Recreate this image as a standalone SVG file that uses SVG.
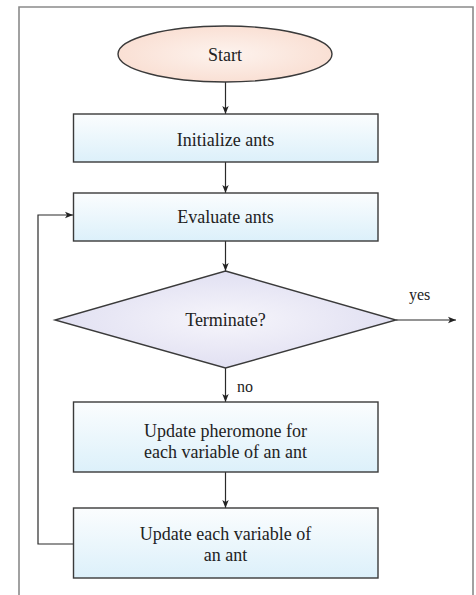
<svg xmlns="http://www.w3.org/2000/svg" width="476" height="595" viewBox="0 0 476 595">
<defs>
<radialGradient id="gStart" cx="0.5" cy="0.5" r="0.6">
<stop offset="0" stop-color="#fdf3ee"/>
<stop offset="1" stop-color="#f9dccf"/>
</radialGradient>
<linearGradient id="gBox" x1="0" y1="0" x2="0" y2="1">
<stop offset="0" stop-color="#fbfdfe"/>
<stop offset="1" stop-color="#dcf0fa"/>
</linearGradient>
<radialGradient id="gDia" cx="0.5" cy="0.5" r="0.5">
<stop offset="0" stop-color="#f6f5fb"/>
<stop offset="1" stop-color="#e1e0f2"/>
</radialGradient>
<marker id="arr" viewBox="0 0 10 10" refX="10" refY="5" markerWidth="8" markerHeight="8" markerUnits="userSpaceOnUse" orient="auto">
<path d="M0,1 L10,5 L0,9 L2.5,5 Z" fill="#222"/>
</marker>
<style>
.node{stroke:#3a3a3a;stroke-width:1.4}
.t{font-family:"Liberation Serif","Times New Roman",serif;font-size:18px;fill:#222;text-anchor:middle}
.lbl{font-family:"Liberation Serif","Times New Roman",serif;font-size:16px;fill:#222}
.c{fill:none;stroke:#2a2a2a;stroke-width:1.2}
</style>
</defs>
<rect x="0" y="0" width="476" height="595" fill="#ffffff"/>
<path d="M19,600 L19,7 L473,7 L473,600" fill="none" stroke="#8a8a8a" stroke-width="1.6"/>
<g id="connectors">
<line class="c" x1="225.5" y1="82" x2="225.5" y2="114" marker-end="url(#arr)"/>
<line class="c" x1="225.5" y1="162" x2="225.5" y2="193" marker-end="url(#arr)"/>
<line class="c" x1="225.5" y1="241" x2="225.5" y2="271" marker-end="url(#arr)"/>
<line class="c" x1="396" y1="320" x2="456" y2="320" marker-end="url(#arr)"/>
<line class="c" x1="225.5" y1="368" x2="225.5" y2="402" marker-end="url(#arr)"/>
<line class="c" x1="225.5" y1="472" x2="225.5" y2="508" marker-end="url(#arr)"/>
<polyline class="c" points="73,544 38,544 38,215 73,215" marker-end="url(#arr)"/>
<text class="lbl" x="409" y="300">yes</text>
<text class="lbl" x="237" y="392">no</text>
</g>
<g id="start">
<ellipse class="node" cx="225" cy="54" rx="107" ry="28" fill="url(#gStart)"/>
<text class="t" x="225" y="61">Start</text>
</g>
<g id="init">
<rect class="node" x="73.5" y="114" width="304.5" height="48" fill="url(#gBox)"/>
<text class="t" x="225.5" y="145.5">Initialize ants</text>
</g>
<g id="evaluate">
<rect class="node" x="73.5" y="193" width="304.5" height="48" fill="url(#gBox)"/>
<text class="t" x="225.5" y="223">Evaluate ants</text>
</g>
<g id="terminate">
<polygon class="node" points="225.5,271 396,320 225.5,368 55,320" fill="url(#gDia)"/>
<text class="t" x="225.5" y="326">Terminate?</text>
</g>
<g id="pheromone">
<rect class="node" x="73.5" y="402" width="304.5" height="70" fill="url(#gBox)"/>
<text class="t" x="225.5" y="437">Update pheromone for</text>
<text class="t" x="225.5" y="458">each variable of an ant</text>
</g>
<g id="update">
<rect class="node" x="73.5" y="508" width="304.5" height="70" fill="url(#gBox)"/>
<text class="t" x="225.5" y="540">Update each variable of</text>
<text class="t" x="225.5" y="561">an ant</text>
</g>
</svg>
